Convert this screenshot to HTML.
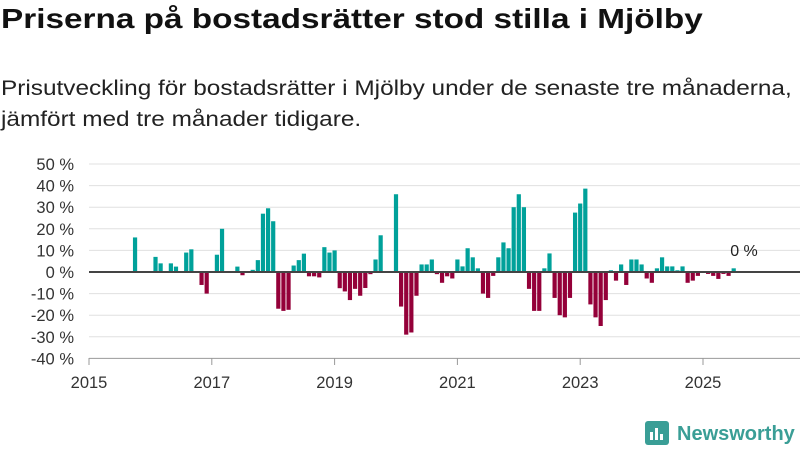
<!DOCTYPE html>
<html><head><meta charset="utf-8"><style>
body{margin:0;width:800px;height:450px;background:#fff;font-family:"Liberation Sans",sans-serif;overflow:hidden;position:relative}
h1{position:absolute;left:1px;top:3px;margin:0;font-size:28px;font-weight:bold;color:#111;transform-origin:0 0;transform:scaleX(1.19);white-space:nowrap}
p{position:absolute;left:1px;top:73px;margin:0;font-size:21px;line-height:31px;color:#222;transform-origin:0 0;transform:scaleX(1.16);white-space:nowrap}
svg{position:absolute;left:0;top:0}
</style></head><body>
<h1>Priserna på bostadsrätter stod stilla i Mjölby</h1>
<p>Prisutveckling för bostadsrätter i Mjölby under de senaste tre månaderna,<br>jämfört med tre månader tidigare.</p>
<svg id="chart" width="800" height="450"></svg>
<script>
// month index from Jan 2015 (0-based) and value in %
const months=[8,12,13,15,16,18,19,21,22,24,25,28,29,31,32,33,34,35,36,37,38,39,40,41,42,43,44,45,46,47,48,49,50,51,52,53,54,55,56,59,60,61,62,63,64,65,66,67,68,69,70,71,72,73,74,75,76,77,78,79,80,81,82,83,84,85,86,87,88,89,90,91,92,93,94,95,96,97,98,99,100,101,102,103,104,105,106,107,108,109,110,111,112,113,114,115,116,117,118,120,121,122,123,124,125];
const values=[16,7,4,4,2.5,9,10.5,-6,-10,8,20,2.5,-1.5,1,5.5,27,29.5,23.5,-17,-18,-17.5,3,5.5,8.5,-2,-2,-2.5,11.5,9,10,-7.5,-9,-13,-7.8,-11,-7.4,-1,5.8,17,36,-16,-29,-28,-11,3.5,3.5,5.8,-1,-5,-2,-3,5.8,2.6,11,6.8,1.7,-10,-12,-1.8,6.8,13.7,11,30,36,30,-7.8,-18,-18,1.7,8.6,-12,-20,-21,-12,27.5,31.7,38.6,-15,-21,-25,-13,0.8,-4,3.5,-6,5.8,5.8,3.5,-3,-5,1.7,6.8,2.6,2.6,0.8,2.6,-5,-4,-1.8,-0.9,-1.8,-3.2,-0.9,-1.8,1.7];
const yTicks=[50,40,30,20,10,0,-10,-20,-30,-40];
const xYears=[2015,2017,2019,2021,2023,2025];
const NS="http://www.w3.org/2000/svg",svg=document.getElementById('chart');
const x=t=>89+(t-2015)*61.4;
const y=v=>272-v*2.16;
function mk(tag,a){const e=document.createElementNS(NS,tag);for(const k in a)e.setAttribute(k,a[k]);svg.appendChild(e);return e;}
yTicks.forEach(v=>{
 const g=mk('line',{x1:89,x2:800,y1:y(v),y2:y(v),stroke:v===-40?'#999':'#e0e0e0','stroke-width':1});
 
 
 const t=mk('text',{x:74,y:y(v)+6,'text-anchor':'end','font-size':16.5,fill:'#333'});
 t.textContent=v+' %';
 
 
});
xYears.forEach(yr=>{
 const tk=mk('line',{x1:x(yr),x2:x(yr),y1:358,y2:365,stroke:'#999'});
 
 
 const t=mk('text',{x:x(yr),y:388,'text-anchor':'middle','font-size':16.5,fill:'#333'});
 t.textContent=yr;
 
 
});
months.forEach((m,i)=>{
 const v=values[i],cx=x(2015+(m+1)/12);
 const r=mk('rect',{x:cx-2.1,width:4.2,y:Math.min(y(v),y(0)),height:Math.abs(y(v)-y(0)),fill:v>=0?'#00a19a':'#940039'});
 
 
});
const z=mk('line',{x1:89,x2:800,y1:y(0),y2:y(0),stroke:'#444','stroke-width':2});


const lbl=mk('text',{x:744,y:256,'text-anchor':'middle','font-size':16,fill:'#222'});
lbl.textContent='0 %';


</script>
<svg width="800" height="450" style="pointer-events:none">
<rect x="645" y="421" width="24" height="24" rx="3" fill="#3a9e96"/>
<rect x="650" y="432" width="3" height="8" fill="#fff"/><rect x="655" y="428" width="3" height="12" fill="#fff"/><rect x="660" y="434" width="3" height="6" fill="#fff"/>
<text x="677" y="440" font-size="20" font-weight="bold" fill="#3a9e96" font-family="Liberation Sans,sans-serif">Newsworthy</text>
</svg>
</body></html>
